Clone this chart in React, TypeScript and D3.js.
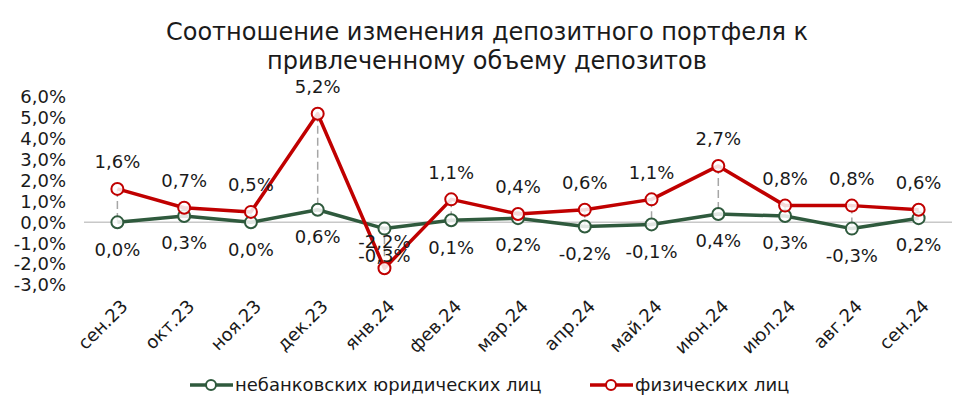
import * as d3 from "d3";

const width = 974,
  height = 419,
  marginLeft = 84,
  marginRight = 22,
  yTop = 97,
  yBottom = 285;

const months = [
  "сен.23", "окт.23", "ноя.23", "дек.23", "янв.24", "фев.24", "мар.24",
  "апр.24", "май.24", "июн.24", "июл.24", "авг.24", "сен.24",
];
const legalEntities = [0.0, 0.3, 0.0, 0.6, -0.3, 0.1, 0.2, -0.2, -0.1, 0.4, 0.3, -0.3, 0.2];
const individuals = [1.6, 0.7, 0.5, 5.2, -2.2, 1.1, 0.4, 0.6, 1.1, 2.7, 0.8, 0.8, 0.6];
const yTicks = [6, 5, 4, 3, 2, 1, 0, -1, -2, -3];
const titleLines = [
  "Соотношение изменения депозитного портфеля к",
  "привлеченному объему депозитов",
];

const green = "#2f5a3d";
const red = "#c00000";
const font = "'DejaVu Sans', sans-serif";

const fmt = (v: number) => v.toFixed(1).replace(".", ",") + "%";

export default function App() {
  const x = d3
    .scalePoint<string>()
    .domain(months)
    .range([marginLeft, width - marginRight])
    .padding(0.5);
  const y = d3.scaleLinear().domain([-3, 6]).range([yBottom, yTop]);

  const line = d3
    .line<number>()
    .x((_, i) => x(months[i])!)
    .y((d) => y(d));

  const series = [
    { name: "небанковских юридических лиц", values: legalEntities, color: green, above: false },
    { name: "физических лиц", values: individuals, color: red, above: true },
  ];

  return (
    <svg
      width={width}
      height={height}
      viewBox={`0 0 ${width} ${height}`}
      style={{ position: "absolute", left: 0, top: 0, background: "#fff", fontFamily: font }}
    >
      {/* title */}
      {titleLines.map((t, i) => (
        <text key={t} x={487} y={40 + i * 29} textAnchor="middle" fontSize={24} fill="#1a1a1a">
          {t}
        </text>
      ))}

      {/* y axis labels */}
      {yTicks.map((t) => (
        <text key={t} x={66} y={y(t)} dy="0.35em" textAnchor="end" fontSize={18} fill="#1a1a1a">
          {fmt(t)}
        </text>
      ))}

      {/* zero line */}
      <line x1={marginLeft} x2={width - marginRight} y1={y(0)} y2={y(0)} stroke="#c8c8c8" strokeWidth={1.5} />

      {/* high-low drop lines */}
      {months.map((m, i) => (
        <line
          key={m}
          x1={x(m)}
          x2={x(m)}
          y1={y(individuals[i])}
          y2={y(legalEntities[i])}
          stroke="#a6a6a6"
          strokeWidth={1.5}
          strokeDasharray="8,4"
        />
      ))}

      {/* lines and markers */}
      {series.map((s) => (
        <g key={s.name}>
          <path d={line(s.values)!} fill="none" stroke={s.color} strokeWidth={3.5} strokeLinejoin="round" />
          {s.values.map((v, i) => (
            <circle key={i} cx={x(months[i])} cy={y(v)} r={6} fill="#fff" fillOpacity={0.85} stroke={s.color} strokeWidth={2} />
          ))}
        </g>
      ))}

      {/* data labels */}
      {series.map((s) =>
        s.values.map((v, i) => (
          <text
            key={s.name + i}
            x={x(months[i])}
            y={y(v) + (s.above ? -27 : 27)}
            dy="0.35em"
            textAnchor="middle"
            fontSize={18}
            fill="#1a1a1a"
          >
            {fmt(v)}
          </text>
        ))
      )}

      {/* x axis labels */}
      {months.map((m) => (
        <text
          key={m}
          transform={`translate(${x(m)! + 7},${303}) rotate(-45)`}
          textAnchor="end"
          dy="0.35em"
          fontSize={18}
          fill="#1a1a1a"
        >
          {m}
        </text>
      ))}

      {/* legend */}
      {series.map((s, i) => {
        const lx = i === 0 ? 190 : 590;
        const ly = 385;
        return (
          <g key={s.name}>
            <line x1={lx} x2={lx + 43} y1={ly} y2={ly} stroke={s.color} strokeWidth={3.5} />
            <circle cx={lx + 21} cy={ly} r={5} fill="#fff" stroke={s.color} strokeWidth={2} />
            <text x={lx + 45} y={ly} dy="0.35em" fontSize={18} fill="#1a1a1a">
              {s.name}
            </text>
          </g>
        );
      })}
    </svg>
  );
}
